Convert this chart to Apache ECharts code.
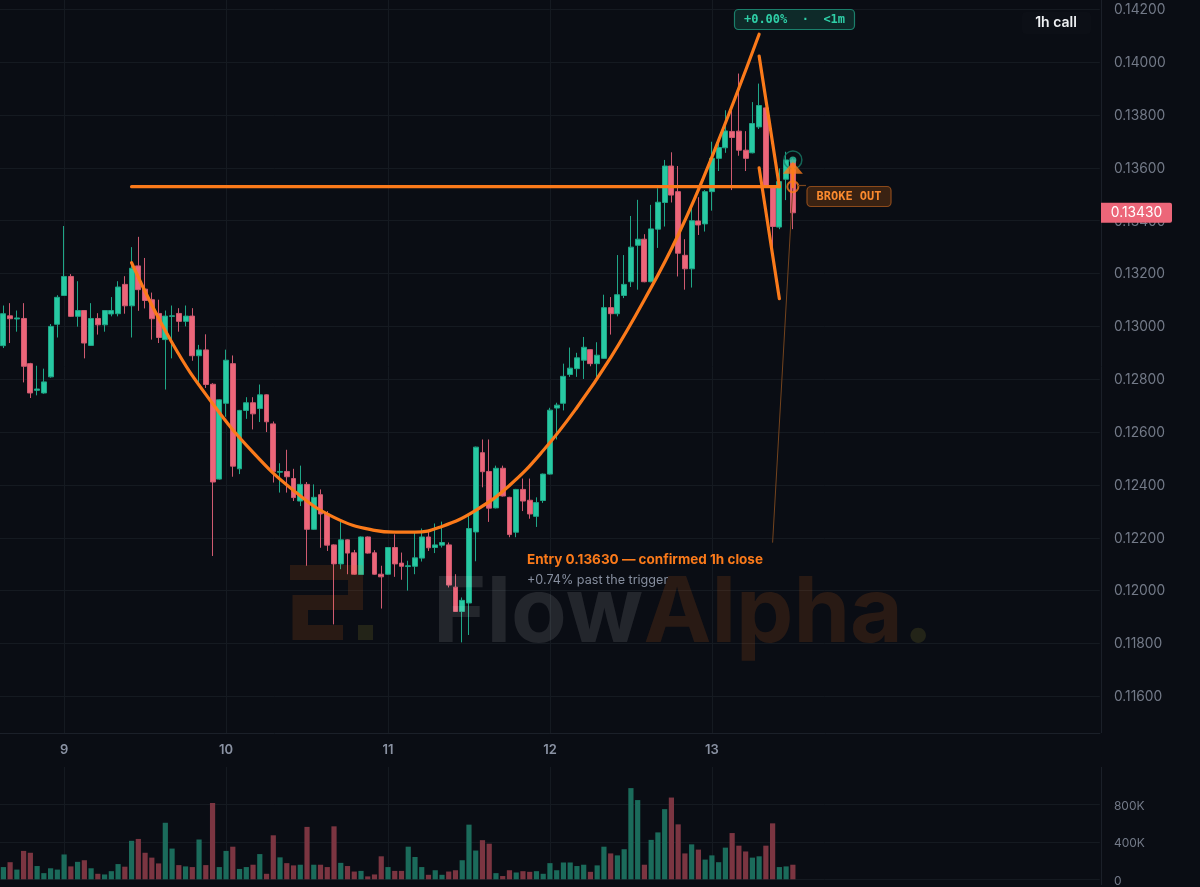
<!DOCTYPE html>
<html><head><meta charset="utf-8">
<style>html,body{margin:0;padding:0;background:#0a0d14;overflow:hidden}#c{width:1200px;height:887px}</style>
<script src="https://cdn.jsdelivr.net/npm/echarts@6/dist/echarts.min.js"></script>
</head><body><div id="c"></div>
<script>
// [open, close, low, high], hourly, first candle = 8th 15:00
const candles = [
[.12927,.13048,.12918,.13079],[.13040,.13029,.12937,.13088],[.13028,.13032,.12980,.13060],[.13030,.12849,.12788,.13088],
[.12859,.12748,.12729,.12862],[.12758,.12763,.12739,.12851],[.12748,.12790,.12745,.12840],[.12809,.13000,.12806,.13009],
[.13008,.13110,.12958,.13118],[.13117,.13189,.13115,.13380],[.13189,.13038,.13036,.13198],[.13038,.13060,.12999,.13171],
[.13060,.12937,.12879,.13062],[.12928,.13030,.12926,.13088],[.13030,.13006,.12969,.13050],[.13006,.13060,.12980,.13062],
[.13047,.13060,.13038,.13111],[.13048,.13149,.13038,.13171],[.13159,.13078,.13048,.13190],[.13078,.13220,.12958,.13300],
[.13229,.13139,.13059,.13339],[.13141,.13098,.13068,.13259],[.13101,.13029,.12950,.13128],[.13049,.12958,.12937,.13101],
[.12950,.13039,.12761,.13060],[.13038,.13040,.12879,.13079],[.13049,.13019,.12980,.13069],[.13019,.13039,.13000,.13079],
[.13039,.12889,.12870,.13069],[.12889,.12911,.12786,.12930],[.12911,.12780,.12767,.12970],[.12781,.12411,.12131,.12785],
[.12422,.12722,.12420,.12724],[.12709,.12872,.12658,.12912],[.12859,.12471,.12431,.12890],[.12461,.12682,.12441,.12684],
[.12682,.12711,.12650,.12732],[.12711,.12669,.12610,.12732],[.12689,.12741,.12638,.12780],[.12741,.12639,.12600,.12743],
[.12631,.12450,.12409,.12640],[.12448,.12451,.12371,.12482],[.12451,.12431,.12371,.12533],[.12424,.12352,.12339,.12461],
[.12339,.12402,.12320,.12473],[.12402,.12232,.12094,.12411],[.12232,.12353,.12230,.12402],[.12363,.12290,.12162,.12383],
[.12290,.12172,.12150,.12301],[.12173,.12101,.11872,.12175],[.12101,.12192,.12081,.12260],[.12192,.12142,.12062,.12194],
[.12143,.12062,.12060,.12154],[.12061,.12203,.12059,.12205],[.12203,.12142,.12140,.12205],[.12143,.12062,.12060,.12153],
[.12062,.12052,.11932,.12094],[.12062,.12163,.12060,.12165],[.12163,.12101,.12052,.12213],[.12104,.12092,.12041,.12144],
[.12091,.12094,.12000,.12113],[.12092,.12124,.12062,.12220],[.12123,.12203,.12110,.12235],[.12203,.12162,.12150,.12222],
[.12163,.12173,.12142,.12254],[.12172,.12182,.12163,.12261],[.12173,.12021,.12012,.12182],[.12013,.11921,.11919,.12062],
[.11921,.11963,.11804,.11974],[.11953,.12235,.11832,.12283],[.12222,.12543,.12111,.12545],[.12522,.12450,.12391,.12572],
[.12451,.12312,.12260,.12572],[.12313,.12463,.12311,.12473],[.12463,.12358,.12356,.12473],[.12353,.12212,.12202,.12355],
[.12221,.12383,.12202,.12385],[.12383,.12339,.12301,.12424],[.12342,.12290,.12272,.12424],[.12281,.12333,.12241,.12353],
[.12341,.12441,.12332,.12443],[.12441,.12683,.12439,.12692],[.12691,.12702,.12572,.12711],[.12709,.12811,.12682,.12859],
[.12818,.12842,.12809,.12920],[.12840,.12881,.12809,.12900],[.12872,.12921,.12801,.12960],[.12912,.12859,.12849,.12914],
[.12859,.12891,.12799,.12940],[.12879,.13071,.12877,.13120],[.13071,.13048,.12969,.13111],[.13048,.13120,.13038,.13270],
[.13117,.13159,.13107,.13270],[.13169,.13300,.13149,.13418],[.13307,.13330,.13139,.13479],[.13330,.13169,.13167,.13349],
[.13169,.13369,.13167,.13460],[.13368,.13470,.13297,.13523],[.13469,.13607,.13378,.13630],[.13607,.13497,.13469,.13659],
[.13510,.13277,.13189,.13607],[.13269,.13218,.13139,.13330],[.13218,.13400,.13147,.13460],[.13399,.13384,.13346,.13489],
[.13388,.13510,.13359,.13516],[.13510,.13636,.13438,.13699],[.13636,.13677,.13588,.13693],[.13676,.13740,.13657,.13818],
[.13738,.13715,.13516,.13818],[.13739,.13667,.13646,.13957],[.13667,.13636,.13588,.13739],[.13657,.13768,.13655,.13849],
[.13755,.13836,.13747,.13919],[.13827,.13529,.13527,.13829],[.13529,.13378,.13290,.13531],[.13376,.13548,.13368,.13598],
[.13557,.13630,.13478,.13661],[.13630,.13430,.13368,.13636]
];
// volume in thousands
const volumes = [
131,183,104,304,284,142,66,118,104,266,138,187,204,118,59,52,87,163,135,412,
432,284,232,170,605,329,152,138,131,426,152,817,131,304,349,111,131,156,270,59,
471,235,173,149,156,561,156,156,131,567,176,142,83,90,31,52,246,131,90,90,
349,239,131,48,97,48,83,97,204,585,308,419,381,66,35,97,73,87,80,87,
59,173,97,180,180,142,156,80,149,349,277,256,322,976,848,156,422,502,751,875,
588,277,374,318,211,256,183,339,495,360,298,232,246,360,599,131,138,156
];
const dayLabels = {9:'9',33:'10',57:'11',81:'12',105:'13'};
const priceTicks = [.116,.118,.120,.122,.124,.126,.128,.130,.132,.134,.136,.138,.140,.142];
const volumeTicks = [0,400,800];
// pattern drawing: [candle index, price]
const cupCurve = [[19,.13241],[25,.12938],[31,.12708],[37,.12523],[43,.12379],[49,.12277],[55,.12228],[58,.12221],[61,.12221],[65,.12243],[70,.12304],[75,.12398],[80,.12530],[85,.12693],[90,.12882],[95,.13101],[100,.13346],[105,.13641],[112,.14106]];
const neckline = [[19,.13529],[115,.13529]];
const handleUpper = [[112,.14023],[115,.13529]];
const handleLower = [[112,.13600],[115,.13105]];
const entryLeader = [[114,.12183],[117,.13529]];
const arrowShaft = [[117,.13600],[117,.13529]];
const arrowHead = [[117,.13600]];
const triggerMark = [[117,.13529]];
const entryMark = [[117,.13630]];
const lastPrice = .13430;

const SLOTS = 163;
const categories = Array.from({length:SLOTS},(_,i)=>dayLabels[i]||String(i));
const isDay = i => dayLabels[i]!==undefined;
const BG='#0a0d14',GRID='#151a21',AXIS='#1b2029',GREEN='#27c9a3',RED='#ec6679',ORANGE='#fb7a1a';
const MONO='"DejaVu Sans Mono", monospace';
const pricePx = p => 62.2+(.14-p)*26420;
const lineS = (data,w,color,extra) => Object.assign({type:'line',data,xAxisIndex:0,yAxisIndex:0,showSymbol:false,symbol:'none',silent:true,animation:false,z:5,
  lineStyle:{color,width:w,cap:'round',join:'round'}},extra||{});
const markS = (data,symbol,size,itemStyle,z) => ({type:'scatter',data,xAxisIndex:0,yAxisIndex:0,symbol,symbolSize:size,itemStyle,z,silent:true,animation:false});
const wm = 'rgba(249,115,22,0.135)', wmDot='rgba(190,180,50,0.14)', wmText='rgba(255,255,255,0.105)';
const rectG = (x,y,w,h,fill) => ({type:'rect',z:100,silent:true,shape:{x,y,width:w,height:h},style:{fill}});
const textG = (x,y,text,font,fill,align,base) => ({type:'text',z:102,silent:true,x,y,style:{text,font,fill,align:align||'left',verticalAlign:base||'middle'}});

const chart = echarts.init(document.getElementById('c'),null,{renderer:'canvas'});
chart.setOption({
  animation:false,backgroundColor:BG,
  grid:[{left:-1.18,width:1101.07,top:0,height:733},{left:-1.18,width:1101.07,top:767,height:115.7}],
  xAxis:[0,1].map(g=>({type:'category',gridIndex:g,data:categories,boundaryGap:true,
    axisLine:{show:g===0,lineStyle:{color:AXIS}},axisTick:{show:false},
    splitLine:{show:true,alignWithLabel:true,interval:i=>isDay(i),lineStyle:{color:GRID}},
    axisLabel:{show:g===0,interval:i=>isDay(i),color:'#8a92a3',fontFamily:'Inter',fontSize:13,fontWeight:600,margin:11}})),
  yAxis:[
    {type:'value',gridIndex:0,position:'right',min:.114610,max:.142354,scale:true,
     axisLine:{show:false},axisTick:{show:false,customValues:priceTicks},splitLine:{show:true,lineStyle:{color:GRID}},
     axisLabel:{customValues:priceTicks,formatter:v=>v.toFixed(5),color:'#737a88',fontFamily:'Inter',fontSize:13.8,margin:14,verticalAlign:'top',padding:[-6.3,0,0,0]}},
    {type:'value',gridIndex:1,position:'right',min:0,max:1202,
     axisLine:{show:false},axisTick:{show:false,customValues:volumeTicks},splitLine:{show:true,lineStyle:{color:GRID}},
     axisLabel:{customValues:volumeTicks,formatter:v=>v?v+'K':'0',color:'#737a88',fontFamily:'Inter',fontSize:12,margin:14,verticalAlign:'top',padding:[-4.3,0,0,0]}}
  ],
  series:[
    {type:'candlestick',xAxisIndex:0,yAxisIndex:0,data:candles,barWidth:5.4,z:2,silent:true,animation:false,
     itemStyle:{color:GREEN,color0:RED,borderColor:'#1fa687',borderColor0:'#cf5a70',borderWidth:1}},
    {type:'bar',xAxisIndex:1,yAxisIndex:1,barWidth:5.2,z:2,silent:true,animation:false,
     data:volumes.map((v,i)=>({value:v,itemStyle:{color:candles[i][1]>=candles[i][0]?'#1b6b5b':'#7b3541'}}))},
    lineS(entryLeader,1,'#74431d',{z:4}),
    lineS(cupCurve,3.2,ORANGE,{smooth:0.45}),
    lineS(neckline,3.2,ORANGE),
    lineS(handleUpper,3.2,ORANGE),
    lineS(handleLower,3.2,ORANGE),
    markS(entryMark,'circle',18,{color:'rgba(0,0,0,0)',borderColor:'#177a66',borderWidth:1.5},6),
    markS(entryMark,'circle',7,{color:'#27c9a3'},6),
    lineS(arrowShaft,3,ORANGE,{z:7}),
    markS(arrowHead,'triangle',[20,12],{color:ORANGE},8),
    markS(triggerMark,'circle',11,{color:'rgba(0,0,0,0)',borderColor:ORANGE,borderWidth:2},8)
  ],
  graphic:[
    {type:'line',z:3,silent:true,shape:{x1:1101.5,y1:0,x2:1101.5,y2:733},style:{stroke:AXIS,lineWidth:1}},
    {type:'line',z:3,silent:true,shape:{x1:1101.5,y1:767,x2:1101.5,y2:885},style:{stroke:AXIS,lineWidth:1}},
    // watermark
    rectG(290,565,73,15,wm),rectG(348,580,15,15,wm),rectG(292.5,595,70.5,15,wm),rectG(292.5,610,15.5,15,wm),rectG(292.5,625,50.5,15,wm),rectG(358,625,15,15,wmDot),
    textG(433,569.4,'Flow','700 91px Inter',wmText,'left','top'),
    textG(643.5,569.4,'Alpha','700 91px Inter',wm,'left','top'),
    textG(903,569.4,'.','700 91px Inter',wmDot,'left','top'),
    // annotations
    textG(527,560,'Entry 0.13630 — confirmed 1h close','700 13.5px Inter',ORANGE),
    textG(527,580,'+0.74% past the trigger','400 12.6px Inter','#868e9e'),
    {type:'line',z:101,silent:true,shape:{x1:798,y1:185.5,x2:806,y2:185.5},style:{stroke:'#7a451c',lineWidth:1.2}},
    {type:'rect',z:101,silent:true,shape:{x:807,y:186.5,width:84,height:20,r:4},style:{fill:'#3a2212',stroke:'#8c4a1b',lineWidth:1.2}},
    textG(849,196.8,'BROKE OUT','700 12px '+MONO,'#fb8a2e','center'),
    {type:'rect',z:101,silent:true,shape:{x:734.5,y:9.5,width:120,height:20,r:4},style:{fill:'#0e2a29',stroke:'#1b7f6b',lineWidth:1.2}},
    textG(794.5,19.8,'+0.00%  ·  <1m','700 12px '+MONO,'#2fd0a8','center'),
    {type:'rect',z:101,silent:true,shape:{x:1022,y:12,width:69,height:22,r:4},style:{fill:'#0c0f16'}},
    textG(1056,23,'1h call','600 14px Inter','#eef0f3','center'),
    // last price tag
    {type:'rect',z:103,silent:true,shape:{x:1101,y:pricePx(lastPrice)-10,width:71,height:20,r:[0,2,2,0]},style:{fill:RED}},
    {type:'text',z:104,silent:true,x:1136.5,y:pricePx(lastPrice)+.5,style:{text:lastPrice.toFixed(5),font:'400 13.8px Inter',fill:'#ffffff',align:'center',verticalAlign:'middle'}}
  ]
});
</script></body></html>
